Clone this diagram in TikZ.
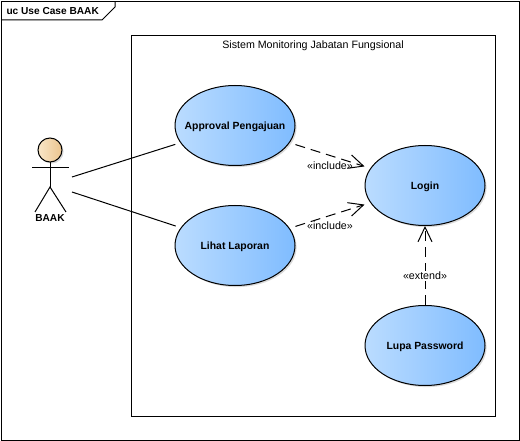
\documentclass[tikz,border=0pt]{standalone}
\usepackage{fontspec}
\setmainfont{Liberation Sans}
\usetikzlibrary{arrows.meta,shapes.geometric,shadows}

\definecolor{caseleft}{HTML}{BBDCFF}
\definecolor{caseright}{HTML}{7FBCFF}
\definecolor{headleft}{HTML}{F9E6C8}
\definecolor{headright}{HTML}{EBC48E}

\begin{document}
\begin{tikzpicture}[x=0.75pt,y=-0.75pt]
    \tikzstyle{every path}=[line width=0.75pt]

    \tikzstyle{usecase}=[ellipse,draw,left color=caseleft,right color=caseright,
    minimum width=90pt,minimum height=60pt,inner ysep=0pt,inner xsep=-16pt,
    text height=5.8pt,text depth=0pt,font=\fontsize{7.8}{10}\selectfont\bfseries,
    general shadow={shadow xshift=1.2pt,shadow yshift=-1.2pt,fill=black,opacity=.15}]
    \tikzstyle{actorhead}=[circle,draw,left color=headleft,right color=headright,
    minimum size=18pt,inner sep=0pt,
    general shadow={shadow xshift=1.2pt,shadow yshift=-1.2pt,fill=black,opacity=.15}]
    \tikzstyle{stereo}=[fill=white,inner sep=1pt,font=\fontsize{8}{9}\selectfont]
    \tikzstyle{depend}=[dashed,dash pattern=on 7.5pt off 4.5pt,-{Straight Barb[length=11pt,width=10.5pt]}]

    \useasboundingbox (0,0) rectangle (520,441);

    %% Draw frame with its tab
    \draw (1.5,1.5) rectangle (519,440.5);
    \draw (1.5,20) -- (102,20) -- (115,7) -- (115,1.5);
    \node [anchor=west,inner sep=0pt,font=\fontsize{7.6}{10}\selectfont\bfseries] (frametitle) at (6,11) {uc Use Case BAAK};

    %% Draw system boundary
    \draw (131.5,35.5) rectangle (495.5,416);
    \node [font=\fontsize{8}{10}\selectfont] (system) at (313,45.5) {Sistem Monitoring Jabatan Fungsional};

    %% Draw use cases
    \node [usecase] (approval) at (235,125.5) {Approval Pengajuan};
    \node [usecase] (laporan) at (235,245.5) {Lihat Laporan};
    \node [usecase] (login) at (425,185.5) {Login};
    \node [usecase] (lupa) at (425,345.5) {Lupa Password};

    %% Draw actor
    \node [actorhead] (head) at (50,150) {};
    \coordinate (armleft) at (32,168);
    \coordinate (armright) at (69,168);
    \coordinate (hip) at (50,187);
    \coordinate (footleft) at (35,212);
    \coordinate (footright) at (66,212);
    \draw (head) -- (hip);
    \draw (armleft) -- (armright);
    \draw (footleft) -- (hip) -- (footright);
    \node [font=\fontsize{7.6}{10}\selectfont\bfseries] (baak) at (50,218) {BAAK};

    %% Draw associations
    \coordinate (baakup) at (72,177);
    \coordinate (baakdown) at (72,192);
    \draw [shorten >=3.9pt] (baakup) -- (approval);
    \draw [shorten >=3.9pt] (baakdown) -- (laporan);

    %% Draw dependencies
    \draw [depend,shorten <=4.5pt,shorten >=4.5pt] (approval) -- (login);
    \draw [depend,shorten <=4.5pt,shorten >=4.5pt] (laporan) -- (login);
    \draw [depend] (lupa) -- (login);
    \node [stereo,fill=none] (incone) at (330,166) {«include»};
    \node [stereo,fill=none] (inctwo) at (330,226) {«include»};
    \node [stereo] (ext) at (425,276) {«extend»};
\end{tikzpicture}
\end{document}
